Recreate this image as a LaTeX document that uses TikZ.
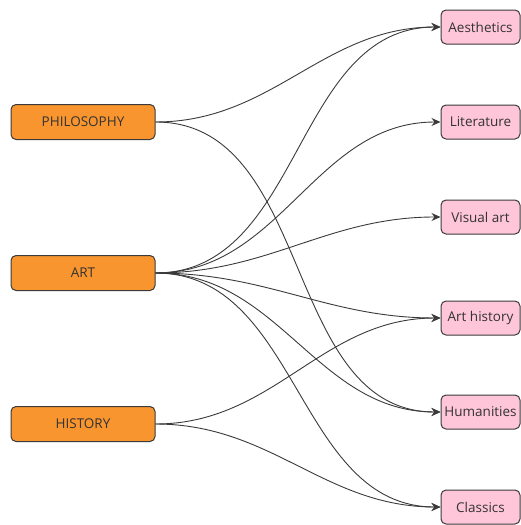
\documentclass[tikz,border=0pt]{standalone}
\usepackage{fontspec}
\setmainfont{Open Sans}
\usetikzlibrary{arrows.meta}
\definecolor{orangefill}{HTML}{F9952F}
\definecolor{pinkfill}{HTML}{FFC6DA}
\definecolor{edgegray}{HTML}{3A3A3A}
\definecolor{textgray}{HTML}{333333}
\begin{document}
\begin{tikzpicture}[x=1pt,y=-1pt,
  srcbox/.style={draw=edgegray, line width=1pt, fill=orangefill, rounded corners=5pt,
    minimum width=144pt, minimum height=35pt, inner sep=0pt, text=textgray,
    font=\fontsize{13.5}{16}\selectfont},
  dstbox/.style={draw=edgegray, line width=1pt, fill=pinkfill, rounded corners=5pt,
    minimum width=79pt, minimum height=34pt, inner sep=0pt, text=textgray,
    font=\fontsize{13.5}{16}\selectfont},
  link/.style={draw=edgegray, line width=0.9pt, -{Stealth[length=9pt,width=8pt]},
    out=0, in=180}]
\useasboundingbox (0,0) rectangle (521,525);
\node[srcbox] (phil) at (83,122) {PHILOSOPHY};
\node[srcbox] (art) at (83,273) {ART};
\node[srcbox] (hist) at (83,424) {HISTORY};
\node[dstbox] (aest) at (480.5,27) {Aesthetics};
\node[dstbox] (lit) at (480.5,122) {Literature};
\node[dstbox] (vis) at (480.5,217) {Visual art};
\node[dstbox] (arth) at (480.5,318) {Art history};
\node[dstbox] (hum) at (480.5,412) {Humanities};
\node[dstbox] (cla) at (480.5,507) {Classics};
\draw[link] (phil.east) to (aest.west);
\draw[link] (phil.east) to (hum.west);
\draw[link] (art.east) to (aest.west);
\draw[link] (art.east) to (lit.west);
\draw[link] (art.east) to (vis.west);
\draw[link] (art.east) to (arth.west);
\draw[link] (art.east) to (hum.west);
\draw[link] (art.east) to (cla.west);
\draw[link] (hist.east) to (arth.west);
\draw[link] (hist.east) to (cla.west);
\end{tikzpicture}
\end{document}
